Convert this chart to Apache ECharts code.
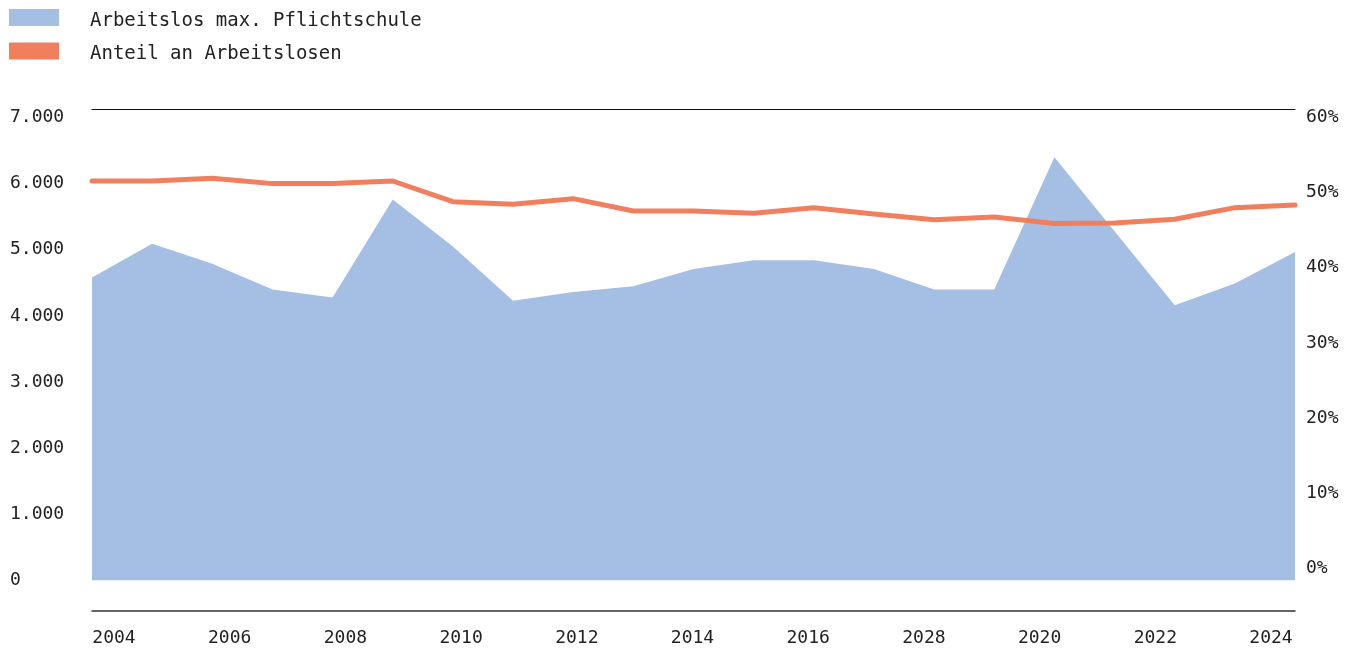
<!DOCTYPE html>
<html>
<head>
<meta charset="utf-8">
<script src="https://cdn.jsdelivr.net/npm/echarts@6/dist/echarts.min.js"></script>
<style>
html,body{margin:0;padding:0;background:#fff;}
#chart{width:1358px;height:649px;}
</style>
</head>
<body>
<div id="chart"></div>
<script>
const years = ['2004','2005','2006','2007','2008','2009','2010','2011','2012','2013','2014','2015','2016','2017','2018','2019','2020','2021','2022','2023','2024'];
const arbeitslos = [4580,5090,4790,4400,4280,5760,5050,4230,4360,4450,4710,4840,4840,4710,4400,4400,6400,5280,4160,4490,4965];
const anteil = [51.55,51.55,51.9,51.2,51.2,51.55,48.8,48.45,49.2,47.55,47.55,47.25,48.0,47.15,46.4,46.75,45.9,45.95,46.45,48.0,48.35];
const xTickLabels = ['2004','2006','2008','2010','2012','2014','2016','2028','2020','2022','2024'];
const leftTicks = [0,1000,2000,3000,4000,5000,6000,7000];
const rightTicks = [0,10,20,30,40,50,60];

const FONT = 'DejaVu Sans Mono';
const TXT = '#222';
const BLUE = '#a5bee3';
const ORANGE = '#f17f5e';

const chart = echarts.init(document.getElementById('chart'));
chart.setOption({
  animation: false,
  backgroundColor: '#fff',
  textStyle: { fontFamily: FONT },
  legend: {
    orient: 'vertical', left: 4, top: 4,
    itemWidth: 50, itemHeight: 17, itemGap: 12,
    icon: 'rect',
    formatter: n => '{t|' + n + '}',
    textStyle: { fontFamily: FONT, fontSize: 19, color: TXT,
      rich: { t: { fontFamily: FONT, fontSize: 19, color: TXT, padding: [7,0,0,26] } } },
    data: ['Arbeitslos max. Pflichtschule', 'Anteil an Arbeitslosen']
  },
  grid: [
    { left: 92, right: 63, top: 117.5, bottom: 68.5 },
    { left: 114, right: 87, top: 117.5, bottom: 68.5 }
  ],
  xAxis: [
    { type: 'category', gridIndex: 0, data: years, boundaryGap: false, position: 'bottom', offset: 30,
      axisLine: { show: true, onZero: false, lineStyle: { color: '#333', width: 1.5 } },
      axisTick: { show: false }, axisLabel: { show: false }, splitLine: { show: false } },
    { type: 'category', gridIndex: 0, data: years, boundaryGap: false, position: 'top', offset: 8.5,
      axisLine: { show: true, onZero: false, lineStyle: { color: '#111', width: 1.2 } },
      axisTick: { show: false }, axisLabel: { show: false }, splitLine: { show: false } },
    { type: 'category', gridIndex: 1, data: xTickLabels, boundaryGap: false, position: 'bottom',
      axisLine: { show: false, onZero: false }, axisTick: { show: false }, splitLine: { show: false },
      axisLabel: { show: true, interval: 0, margin: 49, fontFamily: FONT, fontSize: 18, color: TXT } }
  ],
  yAxis: [
    { type: 'value', gridIndex: 0, min: 0, max: 7000, interval: 1000, position: 'left',
      axisLine: { show: false }, axisTick: { show: false }, splitLine: { show: false },
      axisLabel: { align: 'left', margin: 82, fontFamily: FONT, fontSize: 18, color: TXT,
        formatter: v => String(v).replace(/\B(?=(\d{3})+(?!\d))/g, '.') } },
    { type: 'value', gridIndex: 0, min: -1.62, max: 60, position: 'right',
      axisLine: { show: false }, axisTick: { show: false }, splitLine: { show: false },
      axisLabel: { align: 'left', margin: 11, fontFamily: FONT, fontSize: 18, color: TXT,
        customValues: rightTicks, formatter: v => v + '%' } },
    { type: 'value', gridIndex: 1, show: false }
  ],
  series: [
    { name: 'Arbeitslos max. Pflichtschule', type: 'line', xAxisIndex: 0, yAxisIndex: 0,
      data: arbeitslos, symbol: 'none', showSymbol: false,
      itemStyle: { color: BLUE }, lineStyle: { width: 0, color: BLUE },
      areaStyle: { color: BLUE, opacity: 1 }, z: 1 },
    { name: 'Anteil an Arbeitslosen', type: 'line', xAxisIndex: 0, yAxisIndex: 1,
      data: anteil, symbol: 'none', showSymbol: false,
      itemStyle: { color: ORANGE }, lineStyle: { width: 5, color: ORANGE, cap: 'round', join: 'round' }, z: 3 }
  ]
});
</script>
</body>
</html>
